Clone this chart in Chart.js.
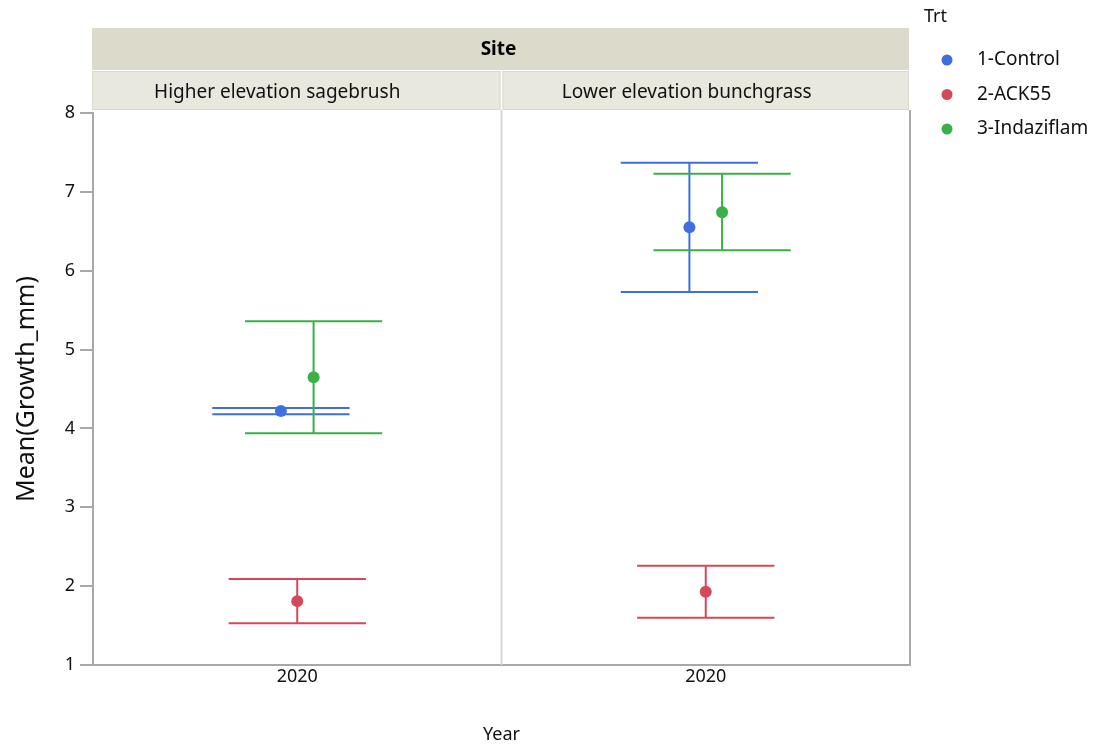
<!DOCTYPE html>
<html>
<head>
<meta charset="utf-8">
<script src="https://cdn.jsdelivr.net/npm/chart.js@4/dist/chart.umd.min.js"></script>
<style>
  html, body { margin: 0; padding: 0; background: #fff; }
  #wrap { width: 1094px; height: 746px; }
</style>
</head>
<body>
<div id="wrap"><canvas id="chart" width="1094" height="746"></canvas></div>
<script>
// Facets and categories
const sites = ['Higher elevation sagebrush', 'Lower elevation bunchgrass'];
const years = ['2020', '2020'];
const treatments = ['1-Control', '2-ACK55', '3-Indaziflam'];

// Mean growth and interval ends per site
const controlMean = [4.22, 6.55];
const controlLow = [4.18, 5.73];
const controlHigh = [4.26, 7.37];
const ackMean = [1.81, 1.93];
const ackLow = [1.53, 1.60];
const ackHigh = [2.09, 2.26];
const indazMean = [4.65, 6.74];
const indazLow = [3.94, 6.26];
const indazHigh = [5.36, 7.23];

const yTicks = [1, 2, 3, 4, 5, 6, 7, 8];

// Look
const colors = ['#3f6fdf', '#d5485a', '#39b146'];
const dodge = [-0.04, 0, 0.04];
const capHalf = 0.168;
const FONT = '"Noto Sans", "Open Sans", sans-serif';

const series = [
  { mean: controlMean, low: controlLow, high: controlHigh },
  { mean: ackMean, low: ackLow, high: ackHigh },
  { mean: indazMean, low: indazLow, high: indazHigh }
];

const datasets = treatments.map((name, i) => ({
  label: name,
  data: sites.map((s, j) => ({
    x: j + 0.5 + dodge[i],
    y: series[i].mean[j],
    lo: series[i].low[j],
    hi: series[i].high[j]
  })),
  backgroundColor: colors[i],
  borderColor: colors[i],
  pointRadius: 6,
  pointBorderWidth: 0,
  showLine: false
}));

// Error bars drawn from the data through the scales
const errorBars = {
  id: 'errorBars',
  beforeDatasetsDraw(chart) {
    const { ctx, scales: { x, y } } = chart;
    ctx.save();
    ctx.lineWidth = 2;
    chart.data.datasets.forEach(ds => {
      ctx.strokeStyle = ds.borderColor;
      ds.data.forEach(p => {
        const px = x.getPixelForValue(p.x);
        const x0 = x.getPixelForValue(p.x - capHalf);
        const x1 = x.getPixelForValue(p.x + capHalf);
        const yl = y.getPixelForValue(p.lo);
        const yh = y.getPixelForValue(p.hi);
        ctx.beginPath();
        ctx.moveTo(px, yl); ctx.lineTo(px, yh);
        ctx.moveTo(x0, yl); ctx.lineTo(x1, yl);
        ctx.moveTo(x0, yh); ctx.lineTo(x1, yh);
        ctx.stroke();
      });
    });
    ctx.restore();
  }
};

// Facet strips, panel divider, frame and legend
const facets = {
  id: 'facets',
  beforeDatasetsDraw(chart) {
    const { ctx, chartArea: a, scales: { x } } = chart;
    ctx.save();
    // divider between panels
    ctx.strokeStyle = '#d6d6d6';
    ctx.lineWidth = 2;
    const mid = x.getPixelForValue(1);
    ctx.beginPath(); ctx.moveTo(mid, a.top - 3); ctx.lineTo(mid, a.bottom); ctx.stroke();
    // right frame
    ctx.strokeStyle = '#a8a8a8';
    ctx.beginPath(); ctx.moveTo(a.right, a.top - 3); ctx.lineTo(a.right, a.bottom + 1); ctx.stroke();
    ctx.restore();
  },
  afterDraw(chart) {
    const { ctx, chartArea: a, scales: { x } } = chart;
    ctx.save();
    const left = a.left - 1, right = a.right - 1;
    // Site strip
    ctx.fillStyle = '#dcdacb';
    ctx.fillRect(left, 28, right - left, 42);
    ctx.fillStyle = '#000';
    ctx.font = 'bold 19px ' + FONT;
    ctx.textAlign = 'center';
    ctx.textBaseline = 'middle';
    ctx.fillText('Site', (left + right) / 2 - 2, 50);
    // sub strips
    sites.forEach((s, j) => {
      const x0 = x.getPixelForValue(j) + (j === 0 ? -1 : 1);
      const x1 = x.getPixelForValue(j + 1) - 1;
      ctx.fillStyle = '#e8e8df';
      ctx.fillRect(x0, 71, x1 - x0, 39);
      ctx.strokeStyle = '#d9d9cc';
      ctx.lineWidth = 1;
      ctx.strokeRect(x0 + 0.5, 71.5, x1 - x0 - 1, 38);
      ctx.fillStyle = '#111';
      ctx.font = '19px ' + FONT;
      ctx.fillText(s, (x0 + x1) / 2 - 19, 93);
    });
    // legend
    ctx.textAlign = 'left';
    ctx.fillStyle = '#111';
    ctx.font = '18px ' + FONT;
    ctx.fillText('Trt', 924, 17);
    treatments.forEach((t, i) => {
      const cy = 60 + i * 34.5;
      ctx.fillStyle = colors[i];
      ctx.beginPath(); ctx.arc(947, cy, 5.5, 0, Math.PI * 2); ctx.fill();
      ctx.fillStyle = '#111';
      ctx.font = '19px ' + FONT;
      ctx.fillText(t, 977, cy);
    });
    ctx.restore();
  }
};

new Chart(document.getElementById('chart'), {
  type: 'scatter',
  data: { datasets },
  options: {
    responsive: false,
    animation: false,
    layout: { padding: { top: 113, right: 184, left: 0, bottom: 0 } },
    plugins: {
      legend: { display: false },
      tooltip: { enabled: false }
    },
    scales: {
      x: {
        type: 'linear',
        min: 0,
        max: 2,
        afterBuildTicks: axis => { axis.ticks = years.map((yr, j) => ({ value: j + 0.5 })); },
        afterFit: axis => { axis.height = 81; },
        ticks: {
          callback: (v, i) => years[i],
          color: '#111',
          font: { family: FONT, size: 18 },
          padding: 1,
          maxRotation: 0
        },
        grid: { display: false, drawTicks: false },
        border: { display: true, color: '#a8a8a8', width: 2 },
        title: {
          display: true,
          text: 'Year',
          color: '#111',
          font: { family: FONT, size: 18 },
          padding: { top: 30, bottom: 0 }
        }
      },
      y: {
        min: 1,
        max: 8,
        afterBuildTicks: axis => { axis.ticks = yTicks.map(v => ({ value: v })); },
        afterFit: axis => { axis.width = 93; },
        ticks: {
          color: '#111',
          font: { family: FONT, size: 18 },
          padding: 5
        },
        grid: { drawOnChartArea: false, drawTicks: true, tickLength: 13, color: '#a8a8a8', lineWidth: 2 },
        border: { display: true, color: '#a8a8a8', width: 2 },
        title: {
          display: true,
          text: 'Mean(Growth_mm)',
          color: '#111',
          font: { family: FONT, size: 25 },
          padding: { top: 12, bottom: 0 }
        }
      }
    }
  },
  plugins: [errorBars, facets]
});
</script>
</body>
</html>
